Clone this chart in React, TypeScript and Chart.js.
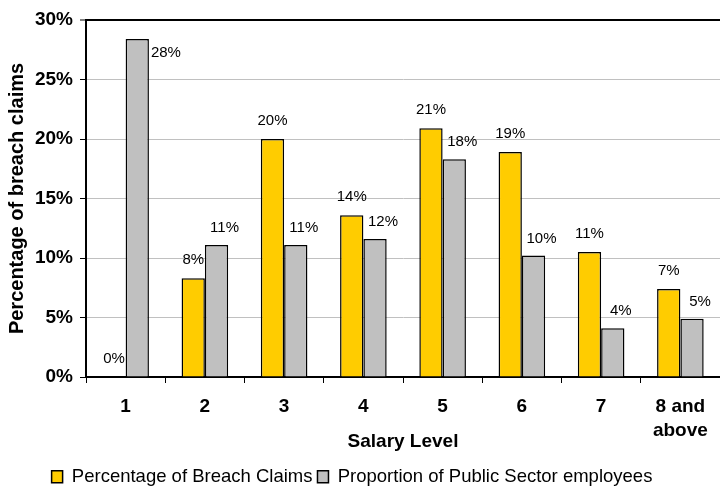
import React, { useEffect, useRef } from "react";
import { Chart, registerables } from "chart.js";

Chart.register(...registerables);

const categories: (string | string[])[] = ["1", "2", "3", "4", "5", "6", "7", ["8 and", "above"]];
const breachClaims = [0, 8.3, 20.0, 13.6, 20.9, 18.9, 10.5, 7.4];
const publicSector = [28.4, 11.1, 11.1, 11.6, 18.3, 10.2, 4.1, 4.9];
const yTicks = { min: 0, max: 30, step: 5 };
const seriesNames = ["Percentage of Breach Claims", "Proportion of Public Sector employees"];

const FONT = "'Liberation Sans', Arial, sans-serif";

const valueLabels = {
  id: "valueLabels",
  afterDatasetsDraw(chart: any) {
    const ctx = chart.ctx;
    ctx.save();
    ctx.font = `15px ${FONT}`;
    ctx.fillStyle = "#000";
    ctx.textBaseline = "middle";
    chart.data.datasets.forEach((ds: any, di: number) => {
      const meta = chart.getDatasetMeta(di);
      meta.data.forEach((bar: any, i: number) => {
        const text = Math.round(ds.data[i]) + "%";
        if (di === 0) {
          ctx.textAlign = "center";
          ctx.fillText(text, bar.x, bar.y - 18);
        } else {
          if (bar.y - 17 < chart.chartArea.top + 12) {
            ctx.textAlign = "left";
            ctx.fillText(text, bar.x + bar.width / 2 + 2, bar.y + 14);
          } else {
            ctx.textAlign = "center";
            ctx.fillText(text, bar.x + 8, bar.y - 17);
          }
        }
      });
    });
    ctx.restore();
  },
};

const legendShift = {
  id: "legendShift",
  afterLayout(chart: any) {
    const l = chart.legend;
    if (!l) return;
    l.left -= 8;
    l.right -= 8;
    l.top += 9;
    l.bottom += 9;
  },
};

export default function App() {
  const ref = useRef<HTMLCanvasElement | null>(null);
  useEffect(() => {
    if (!ref.current) return;
    const chart = new Chart(ref.current, {
      type: "bar",
      data: {
        labels: categories,
        datasets: [
          {
            label: seriesNames[0],
            data: breachClaims,
            backgroundColor: "#FFCC00",
            borderColor: "#000",
            borderWidth: 1.5,
            categoryPercentage: 0.588,
            barPercentage: 1,
          },
          {
            label: seriesNames[1],
            data: publicSector,
            backgroundColor: "#C0C0C0",
            borderColor: "#000",
            borderWidth: 1.5,
            categoryPercentage: 0.588,
            barPercentage: 1,
          },
        ],
      },
      options: {
        responsive: false,
        animation: false,
        devicePixelRatio: 1,
        layout: { padding: { top: 20, left: 0, right: 0, bottom: 0 } },
        plugins: {
          legend: {
            position: "bottom",
            labels: {
              color: "#000",
              font: { family: FONT, size: 18.5 },
              boxWidth: 11,
              boxHeight: 12,
              padding: 5,
            },
          },
          tooltip: { enabled: false },
        },
        scales: {
          x: {
            grid: {
              drawOnChartArea: false,
              drawTicks: true,
              tickLength: 6,
              color: "#000",
              offset: true,
            },
            border: { color: "#000", width: 2 },
            ticks: {
              color: "#000",
              font: { family: FONT, size: 19, weight: "bold", lineHeight: 1.3 },
              padding: 11,
              maxRotation: 0,
              autoSkip: false,
            },
            title: {
              display: true,
              text: "Salary Level",
              color: "#000",
              font: { family: FONT, size: 19, weight: "bold" },
              padding: { top: 0, bottom: 0 },
            },
            afterFit(scale: any) {
              scale.height = 76.5;
            },
          },
          y: {
            min: yTicks.min,
            max: yTicks.max,
            grid: {
              color: (c: any) => (c.tick && c.tick.value === yTicks.max ? "#000" : "#C0C0C0"),
              lineWidth: (c: any) => (c.tick && c.tick.value === yTicks.max ? 2 : 1),
              tickColor: "#000",
              tickLength: 6,
              tickWidth: 1,
            },
            border: { color: "#000", width: 2 },
            ticks: {
              stepSize: yTicks.step,
              color: "#000",
              font: { family: FONT, size: 19, weight: "bold" },
              padding: 7,
              callback: (v: any) => v + "%",
            },
            title: {
              display: true,
              text: "Percentage of breach claims",
              color: "#000",
              font: { family: FONT, size: 20, weight: "bold" },
              padding: { top: 5, bottom: 0 },
            },
            afterFit(scale: any) {
              scale.width = 86;
            },
          },
        },
      },
      plugins: [valueLabels, legendShift],
    } as any);
    return () => chart.destroy();
  }, []);
  return (
    <div style={{ position: "absolute", left: 0, top: 0, width: 720, height: 487, background: "#fff" }}>
      <canvas ref={ref} width={720} height={487} />
    </div>
  );
}
